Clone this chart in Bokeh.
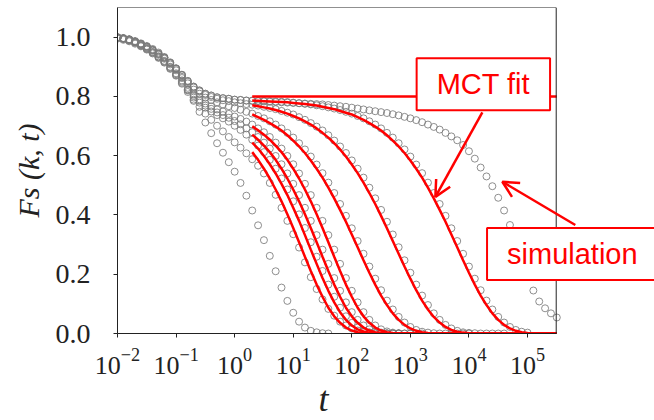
from bokeh.plotting import figure
from bokeh.models import (FixedTicker, LogTickFormatter, NumeralTickFormatter, Label,
                          Arrow, OpenHead, BoxAnnotation, Title)
from bokeh.embed import file_html
from bokeh.resources import INLINE

# log10(t) sampling grid shared by all curves
T_EXP = [-2.0, -1.9, -1.8, -1.7, -1.6, -1.5, -1.4, -1.3, -1.2, -1.1,
         -1.0, -0.9, -0.8, -0.7, -0.6, -0.5, -0.4, -0.3, -0.2, -0.1,
         0.0, 0.1, 0.2, 0.3, 0.4, 0.5, 0.6, 0.7, 0.8, 0.9,
         1.0, 1.1, 1.2, 1.3, 1.4, 1.5, 1.6, 1.7, 1.8, 1.9,
         2.0, 2.1, 2.2, 2.3, 2.4, 2.5, 2.6, 2.7, 2.8, 2.9,
         3.0, 3.1, 3.2, 3.3, 3.4, 3.5, 3.6, 3.7, 3.8, 3.9,
         4.0, 4.1, 4.2, 4.3, 4.4, 4.5, 4.6, 4.7, 4.8, 4.9,
         5.0, 5.1, 5.2, 5.3, 5.4, 5.5]
FIT_START = 23  # the MCT fits begin at log10(t) = 0.3

# simulation curves (grey circles), each starting at log10(t) = -2
SIM_1 = [0.999, 0.996, 0.992, 0.985, 0.977, 0.968, 0.957, 0.944, 0.931, 0.913,
         0.894, 0.873, 0.852, 0.833, 0.820, 0.809, 0.803, 0.797, 0.794, 0.792,
         0.789, 0.788, 0.786, 0.785, 0.784, 0.783, 0.782, 0.781, 0.780, 0.779,
         0.778, 0.777, 0.776, 0.775, 0.774, 0.773, 0.771, 0.769, 0.767, 0.765,
         0.762, 0.759, 0.756, 0.753, 0.750, 0.747, 0.744, 0.740, 0.736, 0.731,
         0.726, 0.720, 0.713, 0.705, 0.697, 0.688, 0.677, 0.665, 0.652, 0.636,
         0.615, 0.590, 0.560, 0.530, 0.497, 0.458, 0.415, 0.366, 0.310, 0.252,
         0.195, 0.145, 0.108, 0.085, 0.068, 0.054]
SIM_2 = [0.999, 0.996, 0.992, 0.985, 0.977, 0.968, 0.957, 0.944, 0.931, 0.913,
         0.894, 0.873, 0.852, 0.833, 0.820, 0.809, 0.803, 0.797, 0.794, 0.792,
         0.789, 0.788, 0.786, 0.786, 0.785, 0.785, 0.784, 0.783, 0.782, 0.781,
         0.779, 0.777, 0.775, 0.773, 0.770, 0.767, 0.763, 0.759, 0.754, 0.748,
         0.742, 0.734, 0.726, 0.716, 0.705, 0.692, 0.677, 0.661, 0.642, 0.621,
         0.597, 0.570, 0.541, 0.509, 0.474, 0.437, 0.397, 0.355, 0.312, 0.269,
         0.226, 0.185, 0.146, 0.111, 0.081, 0.056, 0.037, 0.022, 0.012, 0.006,
         0.003]
SIM_3 = [0.999, 0.996, 0.992, 0.985, 0.977, 0.968, 0.956, 0.943, 0.930, 0.912,
         0.892, 0.871, 0.849, 0.830, 0.817, 0.805, 0.798, 0.792, 0.787, 0.784,
         0.780, 0.777, 0.774, 0.772, 0.769, 0.765, 0.761, 0.757, 0.751, 0.745,
         0.739, 0.730, 0.721, 0.710, 0.698, 0.685, 0.669, 0.651, 0.631, 0.609,
         0.584, 0.556, 0.526, 0.492, 0.456, 0.417, 0.377, 0.334, 0.291, 0.247,
         0.205, 0.165, 0.128, 0.096, 0.068, 0.046, 0.029, 0.017, 0.009, 0.004,
         0.002, 0.001, 0.0, 0.0, 0.0, 0.0, 0.0]
SIM_4 = [0.998, 0.995, 0.991, 0.984, 0.975, 0.965, 0.954, 0.940, 0.927, 0.908,
         0.888, 0.866, 0.844, 0.823, 0.809, 0.796, 0.788, 0.780, 0.773, 0.767,
         0.761, 0.755, 0.748, 0.742, 0.734, 0.726, 0.716, 0.705, 0.692, 0.677,
         0.661, 0.642, 0.621, 0.597, 0.570, 0.541, 0.509, 0.474, 0.437, 0.397,
         0.355, 0.312, 0.269, 0.226, 0.185, 0.146, 0.111, 0.081, 0.056, 0.037,
         0.022, 0.012, 0.006, 0.003, 0.001, 0.0, 0.0, 0.0, 0.0, 0.0, 0.0]
SIM_5 = [0.999, 0.995, 0.990, 0.983, 0.973, 0.963, 0.950, 0.935, 0.920, 0.900,
         0.878, 0.854, 0.829, 0.806, 0.790, 0.776, 0.766, 0.756, 0.749, 0.741,
         0.732, 0.724, 0.715, 0.705, 0.692, 0.679, 0.663, 0.644, 0.624, 0.599,
         0.571, 0.540, 0.505, 0.467, 0.424, 0.380, 0.332, 0.283, 0.235, 0.187,
         0.144, 0.105, 0.072, 0.046, 0.027, 0.014, 0.007, 0.003, 0.001, 0.0,
         0.0, 0.0, 0.0]
SIM_6 = [0.998, 0.995, 0.989, 0.982, 0.972, 0.961, 0.949, 0.934, 0.918, 0.898,
         0.875, 0.850, 0.824, 0.801, 0.785, 0.769, 0.758, 0.746, 0.737, 0.728,
         0.717, 0.706, 0.692, 0.679, 0.663, 0.644, 0.624, 0.599, 0.571, 0.540,
         0.505, 0.467, 0.424, 0.380, 0.332, 0.283, 0.235, 0.187, 0.144, 0.105,
         0.072, 0.046, 0.027, 0.014, 0.007, 0.003, 0.001, 0.0, 0.0, 0.0,
         0.0]
SIM_7 = [0.998, 0.994, 0.989, 0.981, 0.971, 0.960, 0.947, 0.932, 0.916, 0.895,
         0.872, 0.846, 0.820, 0.796, 0.779, 0.762, 0.749, 0.737, 0.726, 0.715,
         0.701, 0.687, 0.671, 0.654, 0.634, 0.612, 0.586, 0.556, 0.523, 0.486,
         0.446, 0.402, 0.356, 0.308, 0.259, 0.211, 0.165, 0.124, 0.087, 0.058,
         0.036, 0.020, 0.010, 0.004, 0.002, 0.001, 0.0, 0.0, 0.0]
SIM_8 = [0.995, 0.991, 0.986, 0.978, 0.969, 0.958, 0.945, 0.930, 0.914, 0.893,
         0.870, 0.843, 0.815, 0.789, 0.765, 0.742, 0.721, 0.701, 0.682, 0.663,
         0.645, 0.627, 0.608, 0.588, 0.566, 0.540, 0.508, 0.468, 0.424, 0.380,
         0.335, 0.290, 0.240, 0.190, 0.150, 0.115, 0.083, 0.060, 0.040, 0.027,
         0.017, 0.010, 0.005, 0.002, 0.0, 0.0, 0.0, 0.0, 0.0]
SIM_9 = [1.0, 0.997, 0.993, 0.987, 0.979, 0.970, 0.960, 0.948, 0.933, 0.915,
         0.895, 0.862, 0.822, 0.785, 0.748, 0.712, 0.676, 0.642, 0.610, 0.578,
         0.546, 0.508, 0.465, 0.415, 0.365, 0.315, 0.262, 0.210, 0.155, 0.110,
         0.070, 0.040, 0.020, 0.009, 0.004, 0.001, 0.0]

# MCT fits (red lines), each starting at log10(t) = 0.3
FIT_1 = [0.80, 0.80, 0.80, 0.80, 0.80, 0.80, 0.80, 0.80, 0.80, 0.80,
         0.80, 0.80, 0.80, 0.80, 0.80, 0.80, 0.80, 0.80, 0.80, 0.80,
         0.80, 0.80, 0.80, 0.80, 0.80, 0.80, 0.80, 0.80, 0.80, 0.80,
         0.80, 0.80, 0.80, 0.80, 0.80, 0.80, 0.80, 0.80, 0.80, 0.80,
         0.80, 0.80, 0.80, 0.80, 0.80, 0.80, 0.80, 0.80, 0.80, 0.80,
         0.80, 0.80, 0.80]
FIT_2 = [0.786, 0.785, 0.784, 0.783, 0.782, 0.781, 0.780, 0.778, 0.776, 0.774,
         0.772, 0.769, 0.765, 0.761, 0.757, 0.751, 0.745, 0.739, 0.730, 0.721,
         0.710, 0.698, 0.685, 0.669, 0.651, 0.631, 0.609, 0.584, 0.556, 0.526,
         0.492, 0.456, 0.417, 0.377, 0.334, 0.291, 0.247, 0.205, 0.165, 0.128,
         0.096, 0.068, 0.046, 0.029, 0.017, 0.009, 0.004, 0.002, 0.001, 0.0,
         0.0, 0.0, 0.0]
FIT_3 = [0.770, 0.767, 0.763, 0.759, 0.754, 0.748, 0.742, 0.734, 0.726, 0.716,
         0.705, 0.692, 0.677, 0.661, 0.642, 0.621, 0.597, 0.570, 0.541, 0.509,
         0.474, 0.437, 0.397, 0.355, 0.312, 0.269, 0.226, 0.185, 0.146, 0.111,
         0.081, 0.056, 0.037, 0.022, 0.012, 0.006, 0.003, 0.001, 0.0, 0.0,
         0.0, 0.0, 0.0, 0.0, 0.0, 0.0, 0.0, 0.0, 0.0, 0.0,
         0.0, 0.0, 0.0]
FIT_4 = [0.739, 0.730, 0.721, 0.710, 0.698, 0.685, 0.669, 0.651, 0.631, 0.609,
         0.584, 0.556, 0.526, 0.492, 0.456, 0.417, 0.377, 0.334, 0.291, 0.247,
         0.205, 0.165, 0.128, 0.096, 0.068, 0.046, 0.029, 0.017, 0.009, 0.004,
         0.002, 0.001, 0.0, 0.0, 0.0, 0.0, 0.0, 0.0, 0.0, 0.0,
         0.0, 0.0, 0.0, 0.0, 0.0, 0.0, 0.0, 0.0, 0.0, 0.0,
         0.0, 0.0, 0.0]
FIT_5 = [0.699, 0.686, 0.671, 0.654, 0.634, 0.612, 0.586, 0.556, 0.523, 0.486,
         0.446, 0.402, 0.356, 0.308, 0.259, 0.211, 0.165, 0.124, 0.087, 0.058,
         0.036, 0.020, 0.010, 0.004, 0.002, 0.001, 0.0, 0.0, 0.0, 0.0,
         0.0, 0.0, 0.0, 0.0, 0.0, 0.0, 0.0, 0.0, 0.0, 0.0,
         0.0, 0.0, 0.0, 0.0, 0.0, 0.0, 0.0, 0.0, 0.0, 0.0,
         0.0, 0.0, 0.0]
FIT_6 = [0.671, 0.654, 0.634, 0.612, 0.586, 0.556, 0.523, 0.486, 0.446, 0.402,
         0.356, 0.308, 0.259, 0.211, 0.165, 0.124, 0.087, 0.058, 0.036, 0.020,
         0.010, 0.004, 0.002, 0.001, 0.0, 0.0, 0.0, 0.0, 0.0, 0.0,
         0.0, 0.0, 0.0, 0.0, 0.0, 0.0, 0.0, 0.0, 0.0, 0.0,
         0.0, 0.0, 0.0, 0.0, 0.0, 0.0, 0.0, 0.0, 0.0, 0.0,
         0.0, 0.0, 0.0]
FIT_7 = [0.644, 0.624, 0.599, 0.571, 0.540, 0.505, 0.467, 0.424, 0.380, 0.332,
         0.283, 0.235, 0.187, 0.144, 0.105, 0.072, 0.046, 0.027, 0.014, 0.007,
         0.003, 0.001, 0.0, 0.0, 0.0, 0.0, 0.0, 0.0, 0.0, 0.0,
         0.0, 0.0, 0.0, 0.0, 0.0, 0.0, 0.0, 0.0, 0.0, 0.0,
         0.0, 0.0, 0.0, 0.0, 0.0, 0.0, 0.0, 0.0, 0.0, 0.0,
         0.0, 0.0, 0.0]
FIT_8 = [0.612, 0.586, 0.556, 0.523, 0.486, 0.446, 0.402, 0.356, 0.308, 0.259,
         0.211, 0.165, 0.124, 0.087, 0.058, 0.036, 0.020, 0.010, 0.004, 0.002,
         0.001, 0.0, 0.0, 0.0, 0.0, 0.0, 0.0, 0.0, 0.0, 0.0,
         0.0, 0.0, 0.0, 0.0, 0.0, 0.0, 0.0, 0.0, 0.0, 0.0,
         0.0, 0.0, 0.0, 0.0, 0.0, 0.0, 0.0, 0.0, 0.0, 0.0,
         0.0, 0.0, 0.0]

SIMS = [SIM_1, SIM_2, SIM_3, SIM_4, SIM_5, SIM_6, SIM_7, SIM_8, SIM_9]
FITS = [FIT_1, FIT_2, FIT_3, FIT_4, FIT_5, FIT_6, FIT_7, FIT_8]

X_TICKS = [1e-2, 1e-1, 1e0, 1e1, 1e2, 1e3, 1e4, 1e5]
Y_TICKS = [0.0, 0.2, 0.4, 0.6, 0.8, 1.0]
X_AXIS_END = 10 ** 5.49          # right end of the drawn axes box
X_VIEW_END = 10 ** 7.168         # plotting area runs on to the page edge

p = figure(width=654, height=420, x_axis_type="log",
           x_range=(1e-2, X_VIEW_END), y_range=(0.0, 1.1),
           output_backend="svg", toolbar_location=None,
           min_border_left=117, min_border_right=0,
           min_border_top=7, min_border_bottom=87)
p.background_fill_color = "white"
p.border_fill_color = "white"
p.outline_line_color = None
p.xgrid.visible = False
p.ygrid.visible = False

for ax in (p.xaxis, p.yaxis):
    ax.major_label_text_font = "Liberation Serif"
    ax.major_label_text_color = "#222222"
    ax.axis_line_color = "#222222"
    ax.major_tick_line_color = "#222222"
    ax.major_tick_in = 0
    ax.major_tick_out = 4
    ax.minor_tick_line_color = None
p.xaxis.ticker = FixedTicker(ticks=X_TICKS)
p.xaxis.formatter = LogTickFormatter()
p.xaxis.major_label_text_font_size = "26px"
p.xaxis.major_label_standoff = 11
p.xaxis.bounds = (1e-2, X_AXIS_END)
p.yaxis.ticker = FixedTicker(ticks=Y_TICKS)
p.yaxis.formatter = NumeralTickFormatter(format="0.0")
p.yaxis.major_label_text_font_size = "28px"
p.yaxis.major_label_standoff = 23
p.yaxis.axis_label = "Fs (k, t)"
p.yaxis.axis_label_text_font = "Liberation Serif"
p.yaxis.axis_label_text_font_style = "italic"
p.yaxis.axis_label_text_font_size = "30px"
p.yaxis.axis_label_text_color = "#222222"
p.yaxis.axis_label_standoff = 8

p.add_layout(Title(text="t", align="left", offset=201, standoff=0,
                   text_font="Liberation Serif", text_font_style="italic",
                   text_font_size="36px", text_color="#222222"), "below")

# axes box (top and right edges)
p.add_layout(BoxAnnotation(left=1e-2, right=X_AXIS_END, bottom=0.0, top=1.1,
                           fill_alpha=0.0, line_color="#222222", line_alpha=1.0,
                           line_width=1))

for ys in SIMS:
    xs = [10 ** e for e in T_EXP[:len(ys)]]
    p.scatter(xs, ys, marker="circle", size=7, fill_color=None,
              line_color="#7a7a7a", line_width=1, line_alpha=0.85)

for ys in FITS:
    xs = [10 ** e for e in T_EXP[FIT_START:FIT_START + len(ys)]]
    p.line(xs, ys, line_color="#ff0000", line_width=2.5)

p.add_layout(Arrow(end=OpenHead(size=16, line_color="#ff0000", line_width=2.5),
                   x_start=10 ** 4.229, y_start=0.746, x_end=10 ** 3.427, y_end=0.461,
                   line_color="#ff0000", line_width=2.5))
p.add_layout(Arrow(end=OpenHead(size=16, line_color="#ff0000", line_width=2.5),
                   x_start=10 ** 5.816, y_start=0.366, x_end=10 ** 4.570, y_end=0.512,
                   line_color="#ff0000", line_width=2.5))

for txt, lx, ly in (("MCT fit", 4.246, 0.841), ("simulation", 5.765, 0.268)):
    p.add_layout(Label(x=10 ** lx, y=ly, text=txt, text_font="Liberation Sans",
                       text_font_size="29px", text_color="#ff0000",
                       text_align="center", text_baseline="middle",
                       background_fill_color="white", border_line_color="#ff0000",
                       border_line_width=2, padding=(20, 10)))

open("out.html", "w").write(file_html(p, INLINE))
